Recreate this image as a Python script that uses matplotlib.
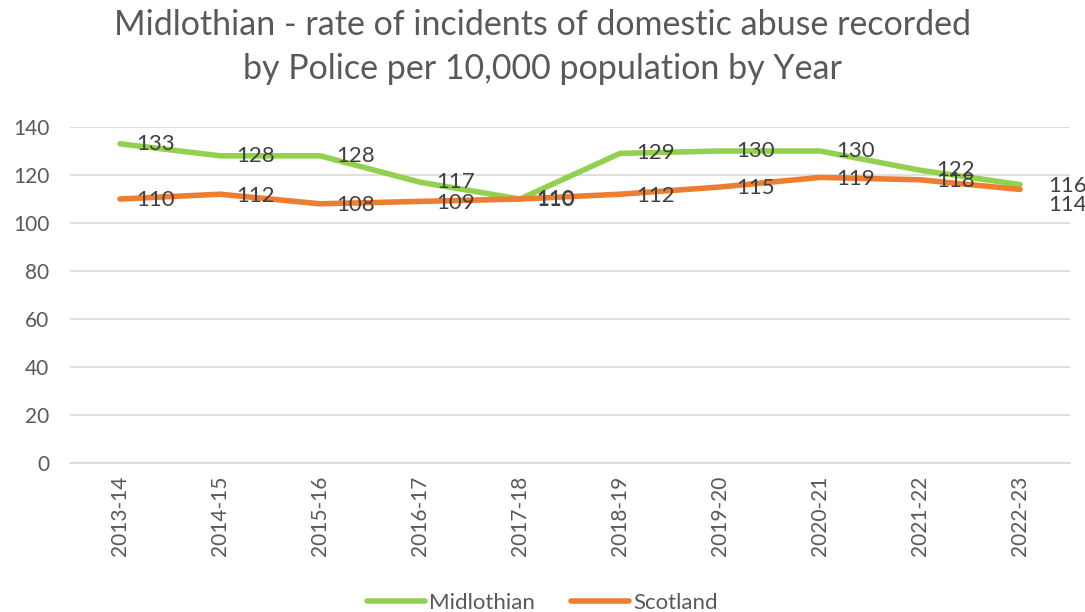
import numpy as np
import matplotlib.pyplot as plt

plt.rcParams['font.family'] = ['Lato', 'DejaVu Sans']

years = ['2013-14', '2014-15', '2015-16', '2016-17', '2017-18',
         '2018-19', '2019-20', '2020-21', '2021-22', '2022-23']
midlothian = [133, 128, 128, 117, 110, 129, 130, 130, 122, 116]
scotland = [110, 112, 108, 109, 110, 112, 115, 119, 118, 114]

green = '#92d050'
orange = '#ed7d31'
grey = '#595959'
lblc = '#404040'

fig = plt.figure(figsize=(10.85, 6.12), dpi=100)
ax = fig.add_axes([70 / 1085, 1 - 463 / 612, 1000 / 1085, 336 / 612])

x = np.arange(len(years))
ax.plot(x, midlothian, color=green, lw=4, solid_capstyle='round', label='Midlothian', zorder=3)
ax.plot(x, scotland, color=orange, lw=4, solid_capstyle='round', label='Scotland', zorder=3)

# data labels to the right of each point
for i in range(len(years) - 1):
    ax.annotate(str(midlothian[i]), (x[i], midlothian[i]), xytext=(12, 0),
                textcoords='offset points', va='center', ha='left',
                fontsize=16, color=lblc, zorder=4)
    ax.annotate(str(scotland[i]), (x[i], scotland[i]), xytext=(12, -1),
                textcoords='offset points', va='center', ha='left',
                fontsize=16, color=lblc, zorder=4)
ax.annotate(str(midlothian[-1]), (x[-1], midlothian[-1]), xytext=(20, -1),
            textcoords='offset points', va='center', ha='left', fontsize=16, color=lblc)
ax.annotate(str(scotland[-1]), (x[-1], scotland[-1]), xytext=(20, -11),
            textcoords='offset points', va='center', ha='left', fontsize=16, color=lblc)

ax.set_xlim(-0.5, len(years) - 0.5)
ax.set_ylim(0, 140)
ax.set_yticks(range(0, 141, 20))
ax.set_xticks(x)
ax.set_xticklabels(years, rotation=90)
ax.tick_params(axis='both', length=0, labelsize=15, colors=grey)
ax.tick_params(axis='x', pad=9)
ax.tick_params(axis='y', pad=15)
ax.grid(axis='y', color='#d9d9d9', lw=1.2)
ax.set_axisbelow(True)
for s in ['top', 'right', 'left']:
    ax.spines[s].set_visible(False)
ax.spines['bottom'].set_color('#d9d9d9')
ax.spines['bottom'].set_linewidth(1.2)

fig.suptitle('Midlothian - rate of incidents of domestic abuse recorded\nby Police per 10,000 population by Year',
             y=0.985, fontsize=24.5, color=grey, linespacing=1.45)

fig.legend(loc='center', bbox_to_anchor=(0.5, 1 - 603 / 612), ncol=2,
           frameon=False, fontsize=16, labelcolor=grey, handlelength=2.6,
           handletextpad=0.2, columnspacing=1.6)

fig.savefig('out.png', dpi=100, facecolor='white')
